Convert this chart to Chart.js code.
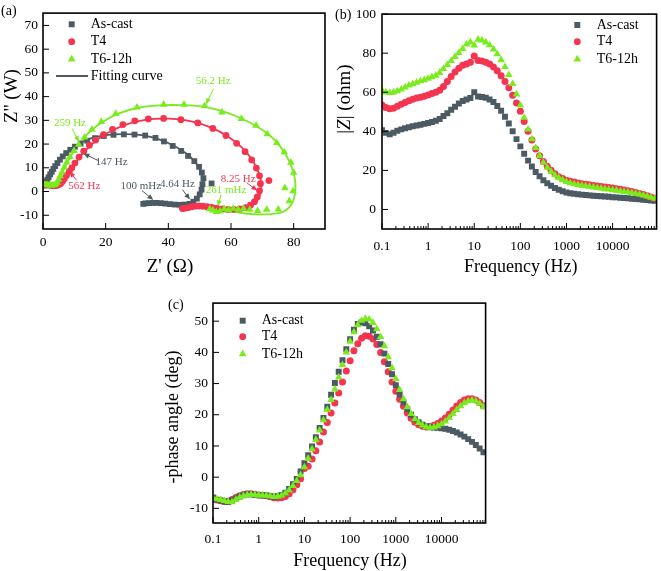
<!DOCTYPE html>
<html lang="en">
<head>
<meta charset="UTF-8">
<title>EIS: Nyquist and Bode plots</title>
<script src="https://cdn.jsdelivr.net/npm/chart.js"></script>
<style>
  html, body { margin: 0; padding: 0; background: #fff; }
  body { width: 661px; height: 571px; position: relative; overflow: hidden; }
  canvas { position: absolute; }
  #nyq { left: 0; top: 0; }
  #bode { left: 330px; top: 0; }
  #phase { left: 160px; top: 290px; }
</style>
</head>
<body>
<canvas id="nyq" width="330" height="290"></canvas>
<canvas id="bode" width="331" height="290"></canvas>
<canvas id="phase" width="330" height="281"></canvas>

<script>
  // ---- data ----
  const seriesNames = ['As-cast', 'T4', 'T6-12h'];

  // (a) Nyquist points, Z' and Z''
  const castZre = [0.5,0.7,0.9,1.1,1.4,1.8,2.3,2.8,3.3,3.9, 4.6,5.4,6.3,7.4,8.7,10.2,12,14.1,16.6,19.4,
    22.5,25.8,29.2,32.6,35.9,38.6,41.4,44.1,46.3,48.3, 49.8,50.7,51.2,50.9,53.8,50.6,50,49.1,48,46.8,
    45.2,43.6,42,40.5,39,37.6,36.2,35,33.8,32.7, 32];
  const castZim = [2.5,3,3.5,4.2,5,6,7.2,8.3,9.5,10.7, 12,13.4,14.8,16.2,17.6,18.9,20.2,21.4,22.5,23.4,
    23.9,24.1,24,23.6,22.6,21.1,19.2,17.1,15,12.8, 10.4,8,5.6,3.1,3.4,0.8,-1.2,-3,-4.3,-5.2,
    -5.5,-5.6,-5.5,-5.3,-5.1,-4.9,-4.8,-4.8,-4.9,-5, -5.2];

  const t4Zre = [0.5,1,1.5,2,2.5,3,3.5,4,4.5,5, 5.6,6.2,6.8,7.5,8.4,9.2,10.2,11.5,13,14.8,
    16.8,19.3,22.2,25.5,29.3,33.6,38.5,44,49.4,54.2, 58.4,61.8,64.5,66.6,68.1,69.1,72.1,69.4,69.1,68.4,
    67.5,66.2,64.6,62.8,60.9,59,57.2,55.5,53.9,52.4, 51,49.7,48.5,47.3,46.2,45.2,44.5];
  const t4Zim = [3,2.9,2.8,2.7,2.6,2.5,2.5,2.5,2.6,2.8, 3.3,4.2,5.4,6.8,8.5,10,12,14.5,17,19.5,
    21.7,24,26.2,28.2,29.8,30.6,30.8,30.3,28.9,26.6, 23.6,20.3,16.8,13.3,9.9,6.6,4.6,3.3,0.3,-2.3,
    -4.3,-5.8,-6.8,-7.3,-7.5,-7.5,-7.3,-7,-6.7,-6.4, -6.2,-6.1,-6.2,-6.5,-6.8,-7.1,-7.2];

  const t6Zre = [0.5,1,1.5,2,2.5,3,3.5,4,4.5,5, 5.5,6.1,6.8,7.6,8.6,9.9,11.4,13.3,15.6,18.6,
    23.2,30,38.5,45,51.6,57.1,63.3,68,71.6,74.6, 77,79.1,80,77.2,79.8,78.6,75.1,71.4,68.5,66,
    64,62.3,60.7,59.2,57.8,56.5,55.3,54.2,53.2];
  const t6Zim = [2.8,2.8,2.7,2.7,2.6,2.6,2.7,3,3.8,5, 6.5,8.2,10.2,12.3,14.6,17.2,19.8,22.8,26.1,29.4,
    32.8,35.5,36.7,36.7,36.1,33.4,30.7,27.8,24.2,20.5, 16.6,12.2,8,1.5,0.2,-4,-7.5,-7.6,-8.2,-7.6,
    -7.2,-7.6,-7.2,-7.8,-7.3,-8.3,-8.6,-7.9,-7.4];

  // (a) fitting curves
  const castFitRe = [0.3,1,2,3.5,5.5,8,11,15,20,26,32,37,41.5,45.5,48.7,50.6,51.2,50.6,49,46.5,43,39,35,32];
  const castFitIm = [2,3.8,6.5,9.8,13.3,16.8,19.8,22.3,23.8,24.2,23.7,22,19.5,16.2,12.2,7.8,3.3,-0.5,-3.3,-5,-5.6,-5.3,-4.9,-5];
  const t4FitRe = [0.3,2,4,5.2,6.2,7.5,9.5,12,15.5,20, 26,33,40,47,53.5,59,63.5,66.8,68.8,69.7,
    69.3,68,65.5,62,58,54,50,47,44.5];
  const t4FitIm = [2.5,2.6,2.5,2.9,4.3,6.8,10.5,15,19.8,24.2, 28,30.3,30.7,29.7,27,23.2,18.5,13.3,8,3.3,
    -1,-4.5,-7,-8.3,-8.4,-7.6,-6.8,-6.6,-7];
  const t6FitRe = [0,2,4,5,6,7.5,9.5,12,15,19, 24,30,37,44,51,57,63,68,72.5,76,
    78.7,80.3,80.5,79.5,77,73,68,63,58,54, 52];
  const t6FitIm = [1.7,2.3,2.5,4.2,7.5,11.5,16.3,21,25.3,29.3, 32.8,35.2,36.3,36.4,35.8,34,31,27.6,23.5,18.5,
    12.5,6,0,-5,-8.3,-9.5,-9.6,-9,-8.2,-7.8, -7.5];

  // (b), (c) frequency (Hz)
  const freq = [0.1,0.121,0.147,0.178,0.215,0.261,0.316,0.383,0.464,0.562,0.681,0.825,
    1,1.21,1.47,1.78,2.15,2.61,3.16,3.83,4.64,5.62,6.81,8.25,
    10,12.1,14.7,17.8,21.5,26.1,31.6,38.3,46.4,56.2,68.1,82.5,
    100,121,147,178,215,261,316,383,464,562,681,825,
    1000,1210,1470,1780,2150,2610,3160,3830,4640,5620,6810,8250,
    10000,12100,14700,17800,21500,26100,31600,38300,46400,56200,68100,82500];

  // (b) |Z| (ohm)
  const castMod = [40.5,39.2,38.5,39.3,40.3,41,41.6,42.1,42.6,43,43.4,43.8,
    44.3,44.8,45.4,46.3,47.8,49.2,51,52.6,54.2,55.5,56.3,57.1,
    60,57.8,57.6,57.2,56.3,55,53,50.5,47.5,44,40,36,
    32.3,28.5,25,22,19.2,17,15,13.4,12.1,11,10.1,9.3,
    8.7,8.3,8,7.8,7.6,7.4,7.2,7,6.9,6.8,6.6,6.5,
    6.3,6.2,6,5.9,5.7,5.5,5.4,5.2,5,4.8,4.6,4.4];
  const t4Mod = [53.5,52.2,51.5,51.8,52.8,53.8,54.8,55.7,56.4,57,57.5,58,
    58.6,59.3,60,61,63,65.5,68,70.3,72.3,73.8,74.5,75.3,
    78.5,76.3,76,75.4,74.4,72.9,71,68.5,65.5,62.3,58.5,54.5,
    50.3,45,40,35.5,31,27.5,24.6,22.1,20.1,18.3,16.8,15.8,
    15,14.5,14,13.6,13.2,12.9,12.6,12.3,12,11.8,11.5,11.2,
    11,10.6,10.3,10,9.6,9.2,8.7,8.2,7.6,7,6.4,5.8];
  const t6Mod = [61,60,59.7,60,60.6,61.5,62.5,63.5,64.2,65,65.7,66.3,
    67,67.8,68.6,70,72,74,76.1,78.2,80.2,82.3,84.5,85.6,
    84,87,86.6,85.6,84.1,82,79.5,76.5,73,68.9,64.3,59,
    53.3,47,41,36,31.5,27.5,24,21.4,19.4,17.6,16.2,15.1,
    14.2,13.5,13,12.6,12.3,12,11.7,11.4,11.1,10.8,10.5,10.3,
    10,9.7,9.4,9.1,8.8,8.5,8.1,7.7,7.2,6.7,6.1,5.6];

  // (c) -phase angle (deg)
  const castPhase = [-6.5,-7.2,-7.5,-7.8,-8,-7.5,-6.8,-6.2,-5.8,-5.5,-5.5,-5.7,
    -5.8,-5.8,-5.9,-6.1,-6.3,-6.1,-5.7,-5,-3.8,-2.3,-0.6,1.8,
    4.5,7,9.8,12.8,15.8,19,22.6,26.4,30.2,33.8,37.5,41,
    44.2,47.3,49.1,49.6,49.3,48.4,47,45,42.6,39.6,36.3,33,
    29.5,26.5,24,21.8,20,18.6,17.6,16.8,16.3,16,15.9,15.8,
    15.7,15.5,15.2,14.8,14.3,13.7,13,12.2,11.3,10.3,9.2,8];
  const t4Phase = [-7,-7.3,-7.6,-7.8,-7.7,-7.2,-6.5,-6,-5.6,-5.3,-5.3,-5.5,
    -5.7,-5.8,-6,-6.3,-6.6,-6.7,-6.6,-6.2,-5.3,-4,-2.4,-0.5,
    2.8,3.5,5.8,8.5,11.3,14.5,17.5,20.6,23.8,27,30.5,34,
    37.3,40.5,42.8,44.5,45.3,45.2,44.3,42.5,40,37,33.8,30.5,
    27.5,25,22.7,20.6,18.9,17.6,16.8,16.3,16.1,16.2,16.6,17.2,
    18,19,20.2,21.5,22.8,23.9,24.7,25.1,25.1,24.7,23.9,22.9];
  const t6Phase = [-6.8,-7,-7.3,-7.6,-7.9,-8,-7.2,-6.5,-6,-5.7,-5.6,-5.7,
    -5.8,-5.8,-5.9,-6.1,-6.3,-6.2,-5.9,-5.2,-4.2,-2.8,-1.2,0.7,
    3.2,6,9,12,15,18.3,21.6,24.8,28.2,32,36,40,
    43.5,46.5,48.8,50.2,50.8,50.6,49.5,47.5,45,42,38.5,35,
    31.5,28,25,22.5,20.3,18.6,17.4,16.6,16.1,15.9,16,16.4,
    17,17.9,19,20.3,21.6,22.8,23.8,24.4,24.6,24.4,23.6,22.5];

  // tick labels
  const nyqXTicks = [0, 20, 40, 60, 80];
  const nyqYTicks = [-10, 0, 10, 20, 30, 40, 50, 60, 70];
  const freqTicks = [0.1, 1, 10, 100, 1000, 10000];
  const modTicks = [0, 20, 40, 60, 80, 100];
  const phaseTicks = [-10, 0, 10, 20, 30, 40, 50];

  // ---- styling / helpers ----
  const FONT = '"Liberation Serif", "Times New Roman", serif';
  const GRAY = '#4b5a63';
  const RED = '#f5344f';
  const GREEN = '#78ec1c';

  function pts(xs, ys) {
    return xs.map((x, i) => ({ x: x, y: ys[i] }));
  }

  function minorLog(max) {
    const out = [];
    for (let d = 0.1; d < max; d *= 10) {
      for (let m = 2; m <= 9; m++) {
        if (d * m < max) out.push(d * m);
      }
    }
    return out;
  }

  function marker(ctx, style, x, y, r) {
    ctx.beginPath();
    if (style === 'rect') {
      const s = r * Math.SQRT1_2;
      ctx.rect(x - s, y - s, 2 * s, 2 * s);
    } else if (style === 'triangle') {
      for (let k = 0; k < 3; k++) {
        const a = k * 2 * Math.PI / 3;
        const px = x + Math.sin(a) * r, py = y - Math.cos(a) * r;
        if (k === 0) ctx.moveTo(px, py); else ctx.lineTo(px, py);
      }
      ctx.closePath();
    } else {
      ctx.arc(x, y, r, 0, Math.PI * 2);
    }
    ctx.fill();
  }

  function drawText(ctx, t) {
    ctx.save();
    ctx.translate(t.x, t.y);
    if (t.rot) ctx.rotate(t.rot);
    ctx.fillStyle = t.color || '#000';
    ctx.textBaseline = 'middle';
    ctx.textAlign = 'left';
    const parts = t.parts || [[t.t, false]];
    const fonts = parts.map(p => (p[1] ? 'italic ' : '') + t.size + 'px ' + FONT);
    let total = 0;
    const ws = parts.map((p, i) => {
      ctx.font = fonts[i];
      const w = ctx.measureText(p[0]).width;
      total += w;
      return w;
    });
    let x = t.align === 'left' ? 0 : -total / 2;
    parts.forEach((p, i) => {
      ctx.font = fonts[i];
      ctx.fillText(p[0], x, 0);
      x += ws[i];
    });
    ctx.restore();
  }

  // frame, inward ticks, titles, legend, annotations
  function decor(o) {
    return {
      id: 'decor',
      afterDraw(chart) {
        const ctx = chart.ctx, a = chart.chartArea;
        const xs = chart.scales.x, ys = chart.scales.y;
        ctx.save();
        ctx.strokeStyle = '#000';
        ctx.lineWidth = 1;
        ctx.beginPath();
        o.xMajor.forEach(v => {
          const p = xs.getPixelForValue(v);
          ctx.moveTo(p, a.bottom); ctx.lineTo(p, a.bottom - 6);
        });
        (o.xMinor || []).forEach(v => {
          const p = xs.getPixelForValue(v);
          ctx.moveTo(p, a.bottom); ctx.lineTo(p, a.bottom - 3);
        });
        o.yMajor.forEach(v => {
          const p = ys.getPixelForValue(v);
          ctx.moveTo(a.left, p); ctx.lineTo(a.left + 6, p);
        });
        ctx.stroke();
        ctx.lineWidth = 1.6;
        ctx.strokeRect(a.left, a.top, a.right - a.left, a.bottom - a.top);

        (o.arrows || []).forEach(ar => {
          const x1 = xs.getPixelForValue(ar.x1), y1 = ys.getPixelForValue(ar.y1);
          const x2 = xs.getPixelForValue(ar.x2), y2 = ys.getPixelForValue(ar.y2);
          const ang = Math.atan2(y2 - y1, x2 - x1);
          ctx.strokeStyle = ar.color;
          ctx.fillStyle = ar.color;
          ctx.lineWidth = 1;
          ctx.beginPath();
          ctx.moveTo(x1, y1);
          ctx.lineTo(x2 - Math.cos(ang) * 4, y2 - Math.sin(ang) * 4);
          ctx.stroke();
          ctx.beginPath();
          ctx.moveTo(x2, y2);
          ctx.lineTo(x2 - Math.cos(ang) * 6 - Math.sin(ang) * 2.5, y2 - Math.sin(ang) * 6 + Math.cos(ang) * 2.5);
          ctx.lineTo(x2 - Math.cos(ang) * 6 + Math.sin(ang) * 2.5, y2 - Math.sin(ang) * 6 - Math.cos(ang) * 2.5);
          ctx.closePath();
          ctx.fill();
          drawText(ctx, { t: ar.text, x: xs.getPixelForValue(ar.tx), y: ys.getPixelForValue(ar.ty), size: 11, color: ar.color });
        });

        (o.legend || []).forEach(it => {
          ctx.fillStyle = it.color;
          ctx.strokeStyle = it.color;
          if (it.style === 'line') {
            ctx.lineWidth = 2;
            ctx.beginPath();
            ctx.moveTo(it.mx - 16, it.y); ctx.lineTo(it.mx + 16, it.y);
            ctx.stroke();
          } else {
            marker(ctx, it.style, it.mx, it.y, it.r);
          }
          drawText(ctx, { t: it.label, x: it.tx, y: it.y, size: 14, align: 'left' });
        });

        (o.texts || []).forEach(t => drawText(ctx, t));
        ctx.restore();
      }
    };
  }

  function makeAxis(opt) {
    return {
      type: opt.type || 'linear',
      position: opt.position,
      min: opt.min,
      max: opt.max,
      grid: { display: false, drawTicks: false },
      border: { display: false },
      ticks: {
        color: '#000',
        font: { family: FONT, size: 13.5 },
        padding: opt.pad,
        maxRotation: 0,
        autoSkip: false,
        callback: v => String(v)
      },
      afterBuildTicks: s => { s.ticks = opt.ticks.map(v => ({ value: v })); },
      afterFit: s => {
        if (opt.position === 'bottom') s.height = opt.size; else s.width = opt.size;
      }
    };
  }

  function baseOptions(pad, xAxis, yAxis) {
    return {
      responsive: false,
      animation: false,
      events: [],
      layout: { padding: pad },
      plugins: { legend: { display: false }, tooltip: { enabled: false } },
      scales: { x: xAxis, y: yAxis }
    };
  }

  function scatterSet(data, style, color, r) {
    return {
      data: data, showLine: false, pointStyle: style, pointRadius: r,
      backgroundColor: color, borderWidth: 0
    };
  }

  function fitSet(data, color) {
    return {
      data: data, showLine: true, pointRadius: 0, borderColor: color,
      borderWidth: 1.8, tension: 0.35, fill: false
    };
  }

  // ---- (a) Nyquist ----
  new Chart(document.getElementById('nyq'), {
    type: 'scatter',
    data: {
      datasets: [
        scatterSet(pts(t6Zre, t6Zim), 'triangle', GREEN, 4.4),
        scatterSet(pts(t4Zre, t4Zim), 'circle', RED, 3.4),
        scatterSet(pts(castZre, castZim), 'rect', GRAY, 4.1),
        fitSet(pts(t6FitRe, t6FitIm), GREEN),
        fitSet(pts(t4FitRe, t4FitIm), RED),
        fitSet(pts(castFitRe, castFitIm), GRAY)
      ]
    },
    options: baseOptions({ top: 2, right: 5, left: 0, bottom: 0 },
      makeAxis({ position: 'bottom', min: 0, max: 90, ticks: nyqXTicks, size: 61, pad: 5 }),
      makeAxis({ position: 'left', min: -15.8, max: 75.2, ticks: nyqYTicks, size: 43, pad: 5 })),
    plugins: [decor({
      xMajor: nyqXTicks, yMajor: nyqYTicks,
      texts: [
        { t: '(a)', x: 1, y: 11, size: 14, align: 'left' },
        { t: "Z'' (W)", x: 12, y: 96, size: 19, rot: -Math.PI / 2 },
        { t: "Z' (\u03A9)", x: 170, y: 267, size: 19 }
      ],
      legend: [
        { style: 'rect', color: GRAY, label: seriesNames[0], mx: 71.7, tx: 90.7, y: 24.3, r: 4.2 },
        { style: 'circle', color: RED, label: seriesNames[1], mx: 71.7, tx: 90.7, y: 41.7, r: 3.4 },
        { style: 'triangle', color: GREEN, label: seriesNames[2], mx: 71.7, tx: 90.7, y: 59.3, r: 4.5 },
        { style: 'line', color: GRAY, label: 'Fitting curve', mx: 72, tx: 90.7, y: 76 }
      ],
      arrows: [
        { text: '259 Hz', color: GREEN, tx: 8.6, ty: 28.9, x1: 9.3, y1: 26.5, x2: 11.5, y2: 20.9 },
        { text: '147 Hz', color: GRAY, tx: 21.9, ty: 12.5, x1: 17.7, y1: 13, x2: 12.9, y2: 16 },
        { text: '562 Hz', color: RED, tx: 13.2, ty: 2.4, x1: 10.7, y1: 4.8, x2: 8.4, y2: 8.4 },
        { text: '56.2 Hz', color: GREEN, tx: 54.3, ty: 46.5, x1: 54.4, y1: 43.3, x2: 52, y2: 36.8 },
        { text: '100 mHz', color: GRAY, tx: 31.2, ty: 2.4, x1: 31.6, y1: 0.4, x2: 35.2, y2: -3.6 },
        { text: '4.64 Hz', color: GRAY, tx: 42.9, ty: 3.3, x1: 44.5, y1: 0.8, x2: 46.9, y2: -3.4 },
        { text: '8.25 Hz', color: RED, tx: 62.3, ty: 5.4, x1: 65, y1: 3.7, x2: 68.4, y2: 0.4 },
        { text: '261 mHz', color: GREEN, tx: 58.4, ty: 0.4, x1: 56.8, y1: -1.4, x2: 55.8, y2: -6.3 }
      ]
    })]
  });

  // ---- (b) |Z| vs frequency ----
  new Chart(document.getElementById('bode'), {
    type: 'scatter',
    data: {
      datasets: [
        scatterSet(pts(freq, t6Mod), 'triangle', GREEN, 4.4),
        scatterSet(pts(freq, t4Mod), 'circle', RED, 3.5),
        scatterSet(pts(freq, castMod), 'rect', GRAY, 4.2)
      ]
    },
    options: baseOptions({ top: 7, right: 3, left: 0, bottom: 0 },
      makeAxis({ type: 'logarithmic', position: 'bottom', min: 0.1, max: 90000, ticks: freqTicks, size: 61, pad: 9 }),
      makeAxis({ position: 'left', min: -10, max: 100, ticks: modTicks, size: 52, pad: 6 })),
    plugins: [decor({
      xMajor: freqTicks, xMinor: minorLog(90000), yMajor: modTicks,
      texts: [
        { t: '(b)', x: 5, y: 15, size: 14, align: 'left' },
        { parts: [['|', false], ['Z', true], ['| (ohm)', false]], x: 15, y: 99, size: 19, rot: -Math.PI / 2 },
        { t: 'Frequency (Hz)', x: 190.7, y: 267, size: 18 }
      ],
      legend: [
        { style: 'rect', color: GRAY, label: seriesNames[0], mx: 247.3, tx: 266.7, y: 25, r: 4.2 },
        { style: 'circle', color: RED, label: seriesNames[1], mx: 247.3, tx: 266.7, y: 41.7, r: 3.4 },
        { style: 'triangle', color: GREEN, label: seriesNames[2], mx: 247.3, tx: 266.7, y: 59.3, r: 4.5 }
      ]
    })]
  });

  // ---- (c) phase vs frequency ----
  new Chart(document.getElementById('phase'), {
    type: 'scatter',
    data: {
      datasets: [
        scatterSet(pts(freq, t6Phase), 'triangle', GREEN, 4.4),
        scatterSet(pts(freq, castPhase), 'rect', GRAY, 4.2),
        scatterSet(pts(freq, t4Phase), 'circle', RED, 3.5)
      ]
    },
    options: baseOptions({ top: 12, right: 2, left: 0, bottom: 0 },
      makeAxis({ type: 'logarithmic', position: 'bottom', min: 0.1, max: 92000, ticks: freqTicks, size: 48, pad: 8 }),
      makeAxis({ position: 'left', min: -14.7, max: 55.8, ticks: phaseTicks, size: 53, pad: 5 })),
    plugins: [decor({
      xMajor: freqTicks, xMinor: minorLog(92000), yMajor: phaseTicks,
      texts: [
        { t: '(c)', x: 8, y: 15, size: 14, align: 'left' },
        { t: '-phase angle (deg)', x: 13.3, y: 127, size: 18, rot: -Math.PI / 2 },
        { t: 'Frequency (Hz)', x: 190, y: 271.7, size: 18 }
      ],
      legend: [
        { style: 'rect', color: GRAY, label: seriesNames[0], mx: 82.7, tx: 101.7, y: 30.7, r: 4.2 },
        { style: 'circle', color: RED, label: seriesNames[1], mx: 82.7, tx: 101.7, y: 46.7, r: 3.4 },
        { style: 'triangle', color: GREEN, label: seriesNames[2], mx: 82.7, tx: 101.7, y: 64, r: 4.5 }
      ]
    })]
  });
</script>
</body>
</html>
